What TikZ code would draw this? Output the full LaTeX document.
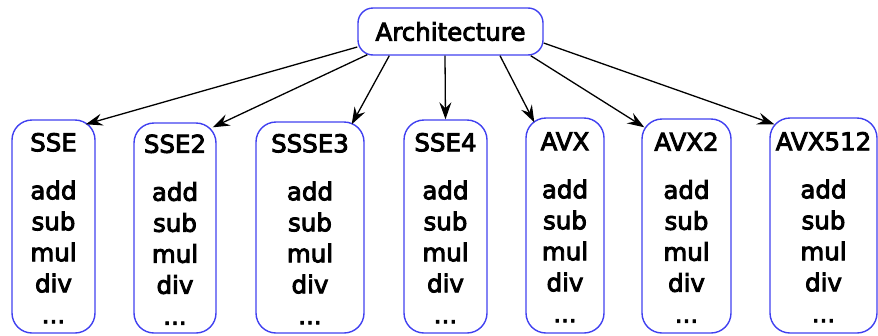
\documentclass[tikz,border=0pt]{standalone}
\usepackage{fontspec}
\setmainfont{DejaVu Sans}[UprightFeatures={FakeBold=3.6}]
\usetikzlibrary{arrows.meta,calc}
\definecolor{boxblue}{RGB}{64,64,240}
\tikzset{
  isa/.style={draw=boxblue, line width=1.4pt, rounded corners=20pt, align=center,
    inner sep=0pt, font=\fontsize{24.5}{31}\selectfont},
  archbox/.style={draw=boxblue, line width=1.4pt, rounded corners=15pt,
    minimum width=185pt, minimum height=47pt, inner sep=0pt,
    font=\fontsize{24.5}{29}\selectfont},
  arr/.style={line width=1.3pt, -{Stealth[length=17pt,width=12pt,inset=6pt]}}
}
\newcommand{\isatext}[1]{\rule{0pt}{21.5pt}#1\\[17pt]add\\sub\\mul\\div\\...}
\begin{document}
\begin{tikzpicture}[x=1pt,y=-1pt]
\useasboundingbox (0,0) rectangle (878,335);
\node[archbox] (arch) at (450.5,31.5) {Architecture};
\node[isa, minimum width=83pt, minimum height=213pt] (sse) at (53.5,226.5) {\isatext{SSE}};
\node[isa, minimum width=82pt, minimum height=210pt] (sse2) at (175,228) {\isatext{SSE2}};
\node[isa, minimum width=108pt, minimum height=211pt] (ssse3) at (310,227.5) {\isatext{SSSE3}};
\node[isa, minimum width=83pt, minimum height=213pt] (sse4) at (445.5,226.5) {\isatext{SSE4}};
\node[isa, minimum width=78pt, minimum height=215pt] (avx) at (565,225.5) {\isatext{AVX}};
\node[isa, minimum width=89pt, minimum height=214pt] (avx2) at (686.5,226) {\isatext{AVX2}};
\node[isa, minimum width=107pt, minimum height=215pt] (avx512) at (823.5,225.5) {\isatext{AVX512}};
\draw[arr] ($(arch.west)+(0,15.5)$) -- ($(sse.north east)+(-10,5)$);
\draw[arr] ($(arch.south west)+(10,-1)$) -- ($(sse2.north east)+(-4,5)$);
\draw[arr] ($(arch.south west)+(32,0)$) -- ($(ssse3.north east)+(-13,3)$);
\draw[arr] ($(arch.south)+(-5.5,0)$) -- (sse4.north);
\draw[arr] ($(arch.south)+(49.5,0)$) -- ($(avx.north west)+(9,5)$);
\draw[arr] ($(arch.south east)+(-13,0)$) -- ($(avx2.north west)+(3,9)$);
\draw[arr] ($(arch.east)+(0,11.5)$) -- ($(avx512.north west)+(5,7)$);
\end{tikzpicture}
\end{document}
